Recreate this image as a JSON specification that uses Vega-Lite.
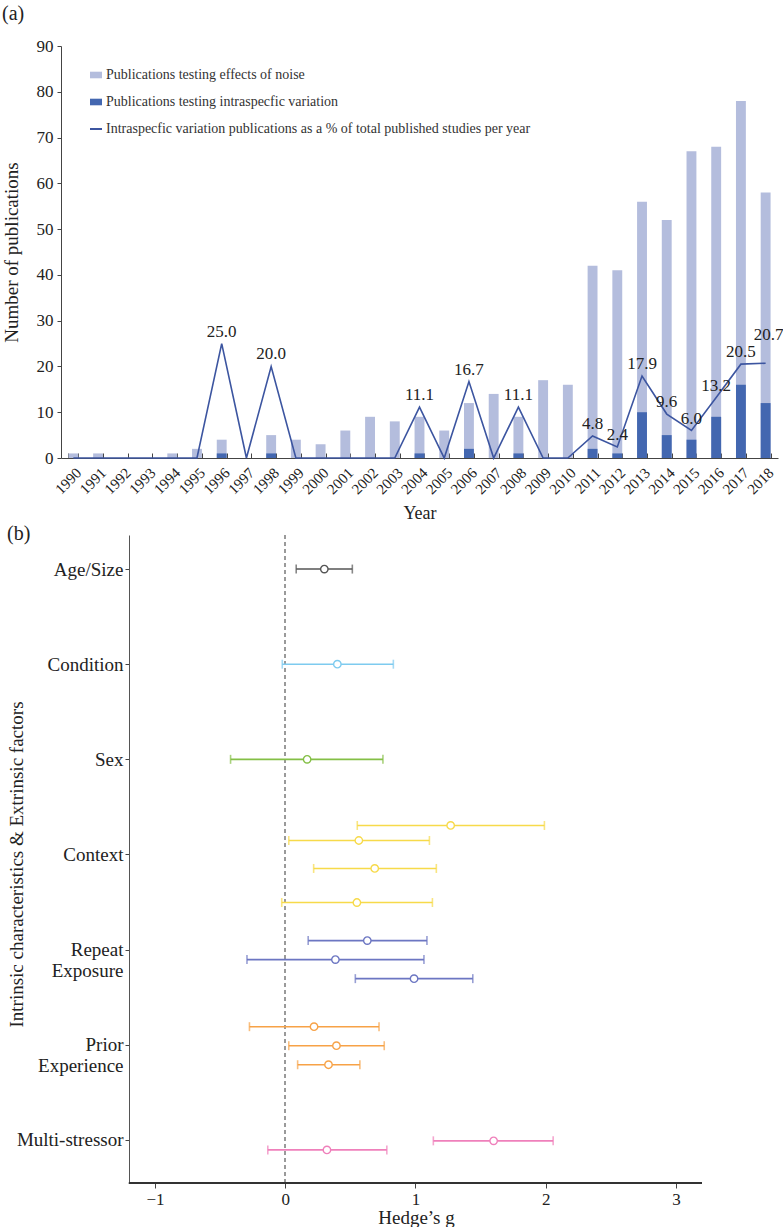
{
  "$schema": "https://vega.github.io/schema/vega-lite/v6.json",
  "padding": {"left": 2, "top": 4, "right": 2, "bottom": 0},
  "config": {
    "font": "Liberation Serif",
    "view": {"stroke": null},
    "axis": {"domainColor": "#444", "tickColor": "#444", "labelColor": "#222", "titleColor": "#222", "labelFont": "Liberation Serif", "titleFont": "Liberation Serif", "titleFontWeight": "normal", "grid": false},
    "legend": {"labelFont": "Liberation Serif", "labelColor": "#333"}
  },
  "resolve": {"scale": {"color": "independent"}, "legend": {"color": "independent"}},
  "spacing": 0,
  "vconcat": [
    {
      "width": 717,
      "height": 412,
      "title": {"text": "(a)", "anchor": "start", "frame": "bounds", "fontSize": 20, "fontWeight": "normal", "font": "Liberation Serif", "color": "#222", "offset": 13},
      "data": {"values": [
        {"year": "1990", "total": 1, "intra": 0, "pct": 0},
        {"year": "1991", "total": 1, "intra": 0, "pct": 0},
        {"year": "1992", "total": 0, "intra": 0, "pct": 0},
        {"year": "1993", "total": 0, "intra": 0, "pct": 0},
        {"year": "1994", "total": 1, "intra": 0, "pct": 0},
        {"year": "1995", "total": 2, "intra": 0, "pct": 0},
        {"year": "1996", "total": 4, "intra": 1, "pct": 25.0},
        {"year": "1997", "total": 0, "intra": 0, "pct": 0},
        {"year": "1998", "total": 5, "intra": 1, "pct": 20.0},
        {"year": "1999", "total": 4, "intra": 0, "pct": 0},
        {"year": "2000", "total": 3, "intra": 0, "pct": 0},
        {"year": "2001", "total": 6, "intra": 0, "pct": 0},
        {"year": "2002", "total": 9, "intra": 0, "pct": 0},
        {"year": "2003", "total": 8, "intra": 0, "pct": 0},
        {"year": "2004", "total": 9, "intra": 1, "pct": 11.1},
        {"year": "2005", "total": 6, "intra": 0, "pct": 0},
        {"year": "2006", "total": 12, "intra": 2, "pct": 16.7},
        {"year": "2007", "total": 14, "intra": 0, "pct": 0},
        {"year": "2008", "total": 9, "intra": 1, "pct": 11.1},
        {"year": "2009", "total": 17, "intra": 0, "pct": 0},
        {"year": "2010", "total": 16, "intra": 0, "pct": 0},
        {"year": "2011", "total": 42, "intra": 2, "pct": 4.8},
        {"year": "2012", "total": 41, "intra": 1, "pct": 2.4},
        {"year": "2013", "total": 56, "intra": 10, "pct": 17.9},
        {"year": "2014", "total": 52, "intra": 5, "pct": 9.6},
        {"year": "2015", "total": 67, "intra": 4, "pct": 6.0},
        {"year": "2016", "total": 68, "intra": 9, "pct": 13.2},
        {"year": "2017", "total": 78, "intra": 16, "pct": 20.5},
        {"year": "2018", "total": 58, "intra": 12, "pct": 20.7}
      ]},
      "encoding": {
        "x": {"field": "year", "type": "ordinal", "scale": {"paddingInner": 0.6, "paddingOuter": 0.3},
          "axis": {"title": "Year", "titleFontSize": 18, "labelAngle": -45, "labelFontSize": 15, "tickBand": "extent", "tickSize": -5, "labelPadding": 12, "titlePadding": 8, "domainColor": "#444"}}
      },
      "layer": [
        {
          "mark": {"type": "bar"},
          "encoding": {
            "y": {"field": "total", "type": "quantitative", "title": "Number of publications", "scale": {"domain": [0, 90], "nice": false},
              "axis": {"values": [0, 10, 20, 30, 40, 50, 60, 70, 80, 90], "labelFontSize": 17, "tickSize": 4, "labelPadding": 4, "titleFontSize": 19, "titleX": -50, "titleBaseline": "middle"}},
            "color": {"datum": "Publications testing effects of noise", "type": "nominal",
              "scale": {"domain": ["Publications testing effects of noise", "Publications testing intraspecfic variation"], "range": ["#b4bddd", "#4367b0"]},
              "legend": {"title": null, "orient": "none", "legendX": 28, "legendY": 22, "padding": 0, "rowPadding": 13, "labelFontSize": 14, "symbolType": "M-1,-0.55H1V0.55H-1Z", "symbolSize": 144, "labelOffset": 3, "symbolStrokeWidth": 0, "labelLimit": 600}}
          }
        },
        {
          "mark": {"type": "bar"},
          "encoding": {
            "y": {"field": "intra", "type": "quantitative", "title": "Number of publications"},
            "color": {"datum": "Publications testing intraspecfic variation", "type": "nominal"}
          }
        },
        {
          "mark": {"type": "line", "strokeWidth": 1.6},
          "encoding": {
            "y": {"field": "pct", "type": "quantitative", "title": "Number of publications"},
            "stroke": {"datum": "Intraspecfic variation publications as a % of total published studies per year", "type": "nominal",
              "scale": {"range": ["#3c55a0"]},
              "legend": {"title": null, "orient": "none", "legendX": 28, "legendY": 76, "padding": 0, "labelFontSize": 14, "symbolType": "stroke", "symbolSize": 144, "symbolStrokeWidth": 2, "labelOffset": 3, "labelLimit": 600}}
          }
        },
        {
          "transform": [{"filter": "datum.pct > 0 && datum.year != '2018'"}],
          "mark": {"type": "text", "dy": -12, "fontSize": 17, "color": "#222", "baseline": "middle", "font": "Liberation Serif"},
          "encoding": {
            "y": {"field": "pct", "type": "quantitative", "title": "Number of publications"},
            "text": {"field": "pct", "type": "quantitative", "format": ".1f"}
          }
        },
        {
          "transform": [{"filter": "datum.year == '2018'"}],
          "mark": {"type": "text", "dy": -28, "dx": 3, "fontSize": 17, "color": "#222", "baseline": "middle", "font": "Liberation Serif"},
          "encoding": {
            "y": {"field": "pct", "type": "quantitative", "title": "Number of publications"},
            "text": {"field": "pct", "type": "quantitative", "format": ".1f"}
          }
        }
      ]
    },
    {
      "width": 641,
      "height": 648,
      "title": {"text": "(b)", "anchor": "start", "frame": "bounds", "fontSize": 20, "fontWeight": "normal", "font": "Liberation Serif", "color": "#222", "offset": -9},
      "data": {"values": [
        {"factor": "Age/Size", "row": 1.0, "est": 0.30, "lo": 0.084, "hi": 0.515},
        {"factor": "Condition", "row": 2.0, "est": 0.40, "lo": -0.023, "hi": 0.83},
        {"factor": "Sex", "row": 3.0, "est": 0.168, "lo": -0.42, "hi": 0.75},
        {"factor": "Context", "row": 3.695, "est": 1.27, "lo": 0.553, "hi": 1.99},
        {"factor": "Context", "row": 3.853, "est": 0.565, "lo": 0.027, "hi": 1.107},
        {"factor": "Context", "row": 4.147, "est": 0.687, "lo": 0.218, "hi": 1.16},
        {"factor": "Context", "row": 4.505, "est": 0.55, "lo": -0.027, "hi": 1.13},
        {"factor": "Repeat Exposure", "row": 4.905, "est": 0.63, "lo": 0.176, "hi": 1.088},
        {"factor": "Repeat Exposure", "row": 5.105, "est": 0.385, "lo": -0.294, "hi": 1.065},
        {"factor": "Repeat Exposure", "row": 5.305, "est": 0.989, "lo": 0.538, "hi": 1.44},
        {"factor": "Prior Experience", "row": 5.81, "est": 0.221, "lo": -0.275, "hi": 0.72},
        {"factor": "Prior Experience", "row": 6.01, "est": 0.393, "lo": 0.027, "hi": 0.76},
        {"factor": "Prior Experience", "row": 6.21, "est": 0.332, "lo": 0.095, "hi": 0.573},
        {"factor": "Multi-stressor", "row": 7.01, "est": 1.60, "lo": 1.137, "hi": 2.057},
        {"factor": "Multi-stressor", "row": 7.105, "est": 0.32, "lo": -0.134, "hi": 0.78}
      ]},
      "layer": [
        {
          "mark": {"type": "rule", "color": "#9a9a9a", "strokeDash": [4, 3], "strokeWidth": 1},
          "encoding": {"x": {"datum": 0, "type": "quantitative"}}
        },
        {
          "mark": {"type": "rule", "color": "#333", "strokeWidth": 1},
          "encoding": {
            "x": {"datum": -1.2, "type": "quantitative"},
            "x2": {"datum": 3.2},
            "y": {"datum": 7.453, "type": "quantitative"}
          }
        },
        {
          "mark": {"type": "rule", "strokeWidth": 1.6},
          "encoding": {
            "x": {"field": "lo", "type": "quantitative", "title": "Hedge’s g", "scale": {"domain": [-1.722, 3.2], "nice": false, "zero": false},
              "axis": {"values": [-1, 0, 1, 2, 3], "format": "d", "domain": false, "labelFontSize": 17, "tickSize": 5, "labelPadding": 3, "titleFontSize": 19, "titlePadding": 1, "titleX": 355}},
            "x2": {"field": "hi"},
            "y": {"field": "row", "type": "quantitative", "title": "Intrinsic characteristics & Extrinsic factors",
              "scale": {"domain": [0.642, 7.453], "reverse": true, "nice": false, "zero": false},
              "axis": {"values": [1, 2, 3, 4, 5, 6, 7], "offset": -68, "labelFontSize": 19, "tickSize": 4, "labelPadding": 2, "titleFontSize": 19, "titleX": -113, "titleY": 329, "titleBaseline": "middle", "domainColor": "#555",
                "labelExpr": "datum.value == 1 ? 'Age/Size' : datum.value == 2 ? 'Condition' : datum.value == 3 ? 'Sex' : datum.value == 4 ? 'Context' : datum.value == 5 ? ['Repeat', 'Exposure'] : datum.value == 6 ? ['Prior', 'Experience'] : 'Multi-stressor'"}},
            "color": {"field": "factor", "type": "nominal", "legend": null,
              "scale": {"domain": ["Age/Size", "Condition", "Sex", "Context", "Repeat Exposure", "Prior Experience", "Multi-stressor"],
                "range": ["#555555", "#7ecbef", "#84bf46", "#f7da4a", "#6c76c2", "#f7a247", "#ef80bb"]}}
          }
        },
        {
          "mark": {"type": "tick", "orient": "vertical", "size": 9, "thickness": 1.6},
          "encoding": {
            "x": {"field": "lo", "type": "quantitative"},
            "y": {"field": "row", "type": "quantitative"},
            "color": {"field": "factor", "type": "nominal"}
          }
        },
        {
          "mark": {"type": "tick", "orient": "vertical", "size": 9, "thickness": 1.6},
          "encoding": {
            "x": {"field": "hi", "type": "quantitative"},
            "y": {"field": "row", "type": "quantitative"},
            "color": {"field": "factor", "type": "nominal"}
          }
        },
        {
          "mark": {"type": "point", "shape": "circle", "filled": false, "fill": "white", "fillOpacity": 1, "opacity": 1, "size": 55, "strokeWidth": 1.4},
          "encoding": {
            "x": {"field": "est", "type": "quantitative"},
            "y": {"field": "row", "type": "quantitative"},
            "color": {"field": "factor", "type": "nominal"}
          }
        }
      ]
    }
  ]
}
